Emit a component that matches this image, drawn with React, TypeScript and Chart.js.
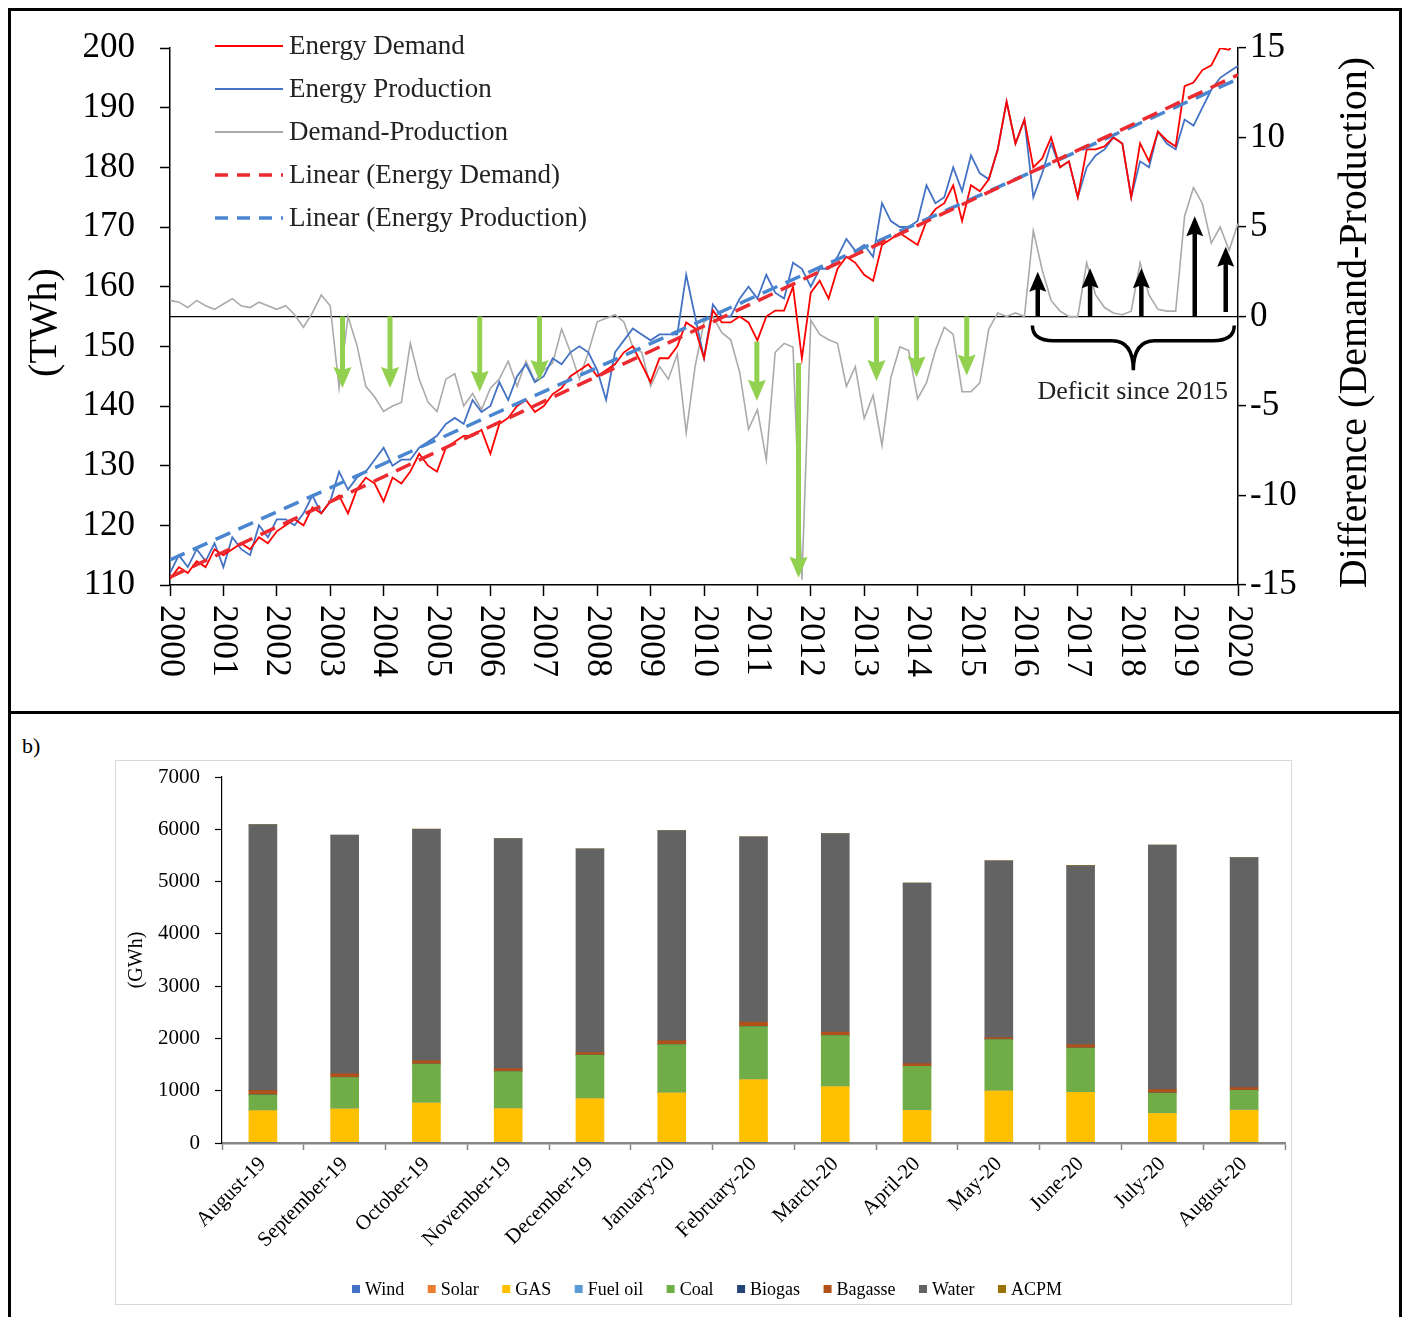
import React, { useEffect, useRef } from 'react';
import { Chart, registerables } from 'chart.js';

Chart.register(...registerables);

const SERIF = '"Liberation Serif", "Times New Roman", serif';

// ---------------- Panel a) data (bimonthly readings, 2000 -> 2020) ----------------
const START_YEAR = 2000;
const STEPS_PER_YEAR = 6;

const energyDemand = [
  111, 113, 112, 114, 113, 116,
  115, 116, 117, 116, 118, 117,
  119, 120, 121, 120, 123, 122,
  124, 125, 122, 126, 128, 127,
  124, 128, 127, 129, 132, 130,
  129, 133, 134, 135, 135, 136,
  132, 137, 138, 140, 141, 139,
  140, 142, 143, 145, 146, 147,
  145, 146, 147, 149, 150, 147,
  144, 148, 148, 150, 154, 153,
  148, 156, 154, 154, 155, 154,
  151, 155, 156, 156, 160, 148,
  159, 161, 158, 163, 165, 164,
  162, 161, 167, 168, 169, 168,
  167, 171, 173, 174, 177, 171,
  177, 176, 178, 183, 191, 184,
  188, 180, 181.5, 185, 180, 181,
  175, 183, 183, 183.5, 185, 184,
  175, 184, 181, 186, 184.5, 183.5,
  193.6, 194.2, 196.3, 197.1, 200, 199.7,
  202,
];

const energyProduction = [
  112, 115, 113, 116, 114, 117,
  113, 118, 116, 115, 120, 118,
  121, 121, 120, 122, 125, 122,
  124, 129, 126, 128, 129, 131,
  133, 130, 131, 131, 133, 134,
  135, 137, 138, 137, 141, 139,
  140, 144, 141, 145, 147, 144,
  145, 148, 147, 149, 150, 149,
  146, 141, 149, 151, 153, 152,
  151, 152, 152, 152, 162, 155,
  148, 157, 155, 155, 158, 160,
  158, 162, 159, 158, 164, 163,
  160, 163, 163, 165, 168, 166,
  167, 165, 174, 171, 170, 170,
  171, 177, 174, 175, 180, 176,
  182, 179, 178, 183, 191, 184,
  188, 175, 179, 184, 180, 181,
  175, 180, 182, 183, 185, 184,
  175, 181, 180, 186, 184, 183,
  188, 187, 190, 193, 195, 196,
  197,
];

const demandMinusProduction = [
  0.9, 0.8, 0.5, 0.9, 0.6, 0.4,
  0.7, 1.0, 0.6, 0.5, 0.8, 0.6,
  0.4, 0.6, 0.1, -0.6, 0.2, 1.2,
  0.6, -4.0, 0.0, -1.6, -3.9, -4.5,
  -5.3, -5.0, -4.8, -1.5, -3.5, -4.8,
  -5.3, -3.5, -3.2, -5.0, -4.3, -5.2,
  -4.0, -3.5, -2.5, -3.9, -2.5, -3.6,
  -3.0, -2.6, -0.7, -2.0, -3.5, -2.0,
  -0.3, -0.1, 0.1, -0.3, -1.7, -2.0,
  -3.9, -2.8, -3.5, -2.1, -6.5, -2.8,
  -0.3, 0.0, -0.9, -1.3, -3.1, -6.3,
  -5.2, -8.0, -2.0, -1.5, -1.7, -14.7,
  -0.2, -1.0, -1.3, -1.5, -3.9, -2.8,
  -5.7, -4.4, -7.2, -3.4, -1.7, -1.9,
  -4.6, -3.7, -1.9, -0.6, -1.0, -4.2,
  -4.2, -3.7, -0.7, 0.2, 0.0, 0.2,
  0.0, 4.8, 2.6, 0.9, 0.3, 0.0,
  0.0, 3.0, 1.2, 0.5, 0.2, 0.1,
  0.3, 3.0, 1.2, 0.4, 0.3, 0.3,
  5.6, 7.2, 6.3, 4.1, 5.0, 3.7,
  5.2,
];

const trendYears = [2000, 2020];
const linearDemand = [111.3, 195.5];
const linearProduction = [114.2, 194.8];

const legendOrderA = [
  'Energy Demand',
  'Energy Production',
  'Demand-Production',
  'Linear (Energy Demand)',
  'Linear (Energy Production)',
];

// annotation anchors (data units: year, difference)
const greenArrowYears = [2003.23, 2004.12, 2005.8, 2006.92, 2010.99, 2011.77, 2013.23, 2013.98, 2014.92];
const greenArrowFrom = [0, 0, 0, 0, -1.4, -2.6, 0, 0, 0];
const greenArrowTo = [-4.0, -4.0, -4.2, -3.6, -4.7, -14.6, -3.6, -3.4, -3.3];
const blackArrowYears = [2016.25, 2017.23, 2018.19, 2019.19, 2019.77];
const blackArrowFrom = [0, 0, 0, 0, 0.25];
const blackArrowTo = [2.5, 2.7, 2.7, 5.6, 3.9];
const braceYears = [2016.15, 2019.93];
const braceLevels = [-0.5, -1.35, -3.0];
const deficitLabel = 'Deficit since 2015';
const deficitAnchor = [2018.03, -4.2];

// ---------------- Panel b) data (GWh) ----------------
const monthsB = [
  'August-19', 'September-19', 'October-19', 'November-19', 'December-19',
  'January-20', 'February-20', 'March-20', 'April-20', 'May-20', 'June-20',
  'July-20', 'August-20',
];
const wind = [2, 2, 2, 2, 2, 2, 2, 2, 2, 2, 2, 2, 2];
const solar = [3, 3, 3, 3, 3, 3, 3, 3, 3, 3, 3, 3, 3];
const gas = [616, 649, 763, 655, 845, 954, 1210, 1076, 618, 992, 962, 561, 624];
const fuelOil = [4, 4, 4, 4, 4, 4, 4, 4, 4, 4, 4, 4, 4];
const coal = [296, 595, 736, 704, 826, 920, 1009, 971, 838, 979, 843, 385, 374];
const biogas = [2, 2, 2, 2, 2, 2, 2, 2, 2, 2, 2, 2, 2];
const bagasse = [80, 70, 64, 51, 51, 70, 83, 63, 51, 32, 65, 65, 51];
const water = [5088, 4562, 4423, 4402, 3892, 4021, 3543, 3798, 3454, 3384, 3420, 4676, 4401];
const acpm = [0, 0, 8, 0, 0, 0, 0, 0, 0, 0, 8, 0, 0];

const periodYears = energyDemand.map((_, i) => START_YEAR + i / STEPS_PER_YEAR);
const toXY = (vals: number[]) => vals.map((v, i) => ({ x: periodYears[i], y: v }));

function drawArrow(
  ctx: CanvasRenderingContext2D,
  x: number, yFrom: number, yTo: number,
  color: string, shaft: number, headW: number, headL: number,
) {
  const dir = yTo > yFrom ? 1 : -1;
  const yBase = yTo - dir * headL;
  ctx.save();
  ctx.strokeStyle = color;
  ctx.fillStyle = color;
  ctx.lineWidth = shaft;
  ctx.lineCap = 'butt';
  ctx.beginPath();
  ctx.moveTo(x, yFrom);
  ctx.lineTo(x, yBase + dir * 2);
  ctx.stroke();
  ctx.beginPath();
  ctx.moveTo(x - headW / 2, yBase - dir * 3);
  ctx.lineTo(x, yBase);
  ctx.lineTo(x + headW / 2, yBase - dir * 3);
  ctx.lineTo(x, yTo);
  ctx.closePath();
  ctx.fill();
  ctx.restore();
}

const fixPad = (s: any) => {
  s.paddingTop = 0;
  s.paddingBottom = 0;
  s.paddingLeft = 0;
  s.paddingRight = 0;
};

const annotationsA = {
  id: 'annotationsA',
  afterDatasetsDraw(chart: any) {
    const { ctx, scales } = chart;
    const x = scales.x;
    const y2 = scales.y2;
    greenArrowYears.forEach((yr, i) => {
      drawArrow(ctx, x.getPixelForValue(yr), y2.getPixelForValue(greenArrowFrom[i]),
        y2.getPixelForValue(greenArrowTo[i]), '#92d050', 5, 18, 18);
    });
    blackArrowYears.forEach((yr, i) => {
      drawArrow(ctx, x.getPixelForValue(yr), y2.getPixelForValue(blackArrowFrom[i]),
        y2.getPixelForValue(blackArrowTo[i]), '#000000', 4.5, 17, 17);
    });
    // curly brace
    const x1 = x.getPixelForValue(braceYears[0]);
    const x2 = x.getPixelForValue(braceYears[1]);
    const xm = (x1 + x2) / 2;
    const yTop = y2.getPixelForValue(braceLevels[0]);
    const yMid = y2.getPixelForValue(braceLevels[1]);
    const yTip = y2.getPixelForValue(braceLevels[2]);
    const r = yMid - yTop;
    ctx.save();
    ctx.strokeStyle = '#000';
    ctx.lineWidth = 3.5;
    ctx.beginPath();
    ctx.moveTo(x1, yTop);
    ctx.quadraticCurveTo(x1, yMid, x1 + r * 1.4, yMid);
    ctx.lineTo(xm - r * 1.4, yMid);
    ctx.quadraticCurveTo(xm, yMid, xm, yTip);
    ctx.moveTo(xm, yTip);
    ctx.quadraticCurveTo(xm, yMid, xm + r * 1.4, yMid);
    ctx.lineTo(x2 - r * 1.4, yMid);
    ctx.quadraticCurveTo(x2, yMid, x2, yTop);
    ctx.stroke();
    ctx.fillStyle = '#222';
    ctx.font = `26px ${SERIF}`;
    ctx.textAlign = 'center';
    ctx.textBaseline = 'middle';
    ctx.fillText(deficitLabel, x.getPixelForValue(deficitAnchor[0]), y2.getPixelForValue(deficitAnchor[1]));
    ctx.restore();
  },
  afterDraw(chart: any) {
    const { ctx, scales, chartArea } = chart;
    const x = scales.x;
    ctx.save();
    // rotated year labels (reading top to bottom)
    ctx.fillStyle = '#000';
    ctx.font = `36px ${SERIF}`;
    ctx.textAlign = 'left';
    ctx.textBaseline = 'middle';
    x.ticks.forEach((t: any) => {
      const px = x.getPixelForValue(t.value);
      ctx.save();
      ctx.translate(px, chartArea.bottom + 20);
      ctx.rotate(Math.PI / 2);
      ctx.fillText(String(t.value), 0, 0);
      ctx.restore();
    });
    // axis titles
    const cy = (chartArea.top + chartArea.bottom) / 2 + 6;
    ctx.font = `40px ${SERIF}`;
    ctx.textAlign = 'center';
    ctx.save();
    ctx.translate(34, cy);
    ctx.rotate(-Math.PI / 2);
    ctx.fillText('(TWh)', 0, 0);
    ctx.restore();
    ctx.save();
    ctx.translate(1344, cy);
    ctx.rotate(-Math.PI / 2);
    ctx.fillText('Difference (Demand-Production)', 0, 0);
    ctx.restore();
    // legend
    ctx.font = `27px ${SERIF}`;
    ctx.textAlign = 'left';
    legendOrderA.forEach((label, i) => {
      const ds = chart.data.datasets.find((d: any) => d.label === label);
      const ly = 35 + i * 43;
      ctx.save();
      ctx.strokeStyle = ds.borderColor;
      ctx.lineWidth = ds.borderDash ? 3.5 : 2;
      ctx.setLineDash(ds.borderDash ? [13, 9] : []);
      ctx.beginPath();
      ctx.moveTo(204, ly);
      ctx.lineTo(272, ly);
      ctx.stroke();
      ctx.restore();
      ctx.fillStyle = '#222';
      ctx.fillText(label, 278, ly + 1);
    });
    ctx.restore();
  },
};

const decorationsB = {
  id: 'decorationsB',
  afterDraw(chart: any) {
    const { ctx, chartArea } = chart;
    ctx.save();
    ctx.fillStyle = '#000';
    ctx.font = `20px ${SERIF}`;
    ctx.textAlign = 'center';
    ctx.textBaseline = 'middle';
    ctx.save();
    ctx.translate(21, (chartArea.top + chartArea.bottom) / 2);
    ctx.rotate(-Math.PI / 2);
    ctx.fillText('(GWh)', 0, 0);
    ctx.restore();
    // legend
    ctx.font = `18px ${SERIF}`;
    ctx.textAlign = 'left';
    const items = chart.data.datasets.map((d: any) => ({
      label: d.label, color: d.backgroundColor, w: 8 + 5 + ctx.measureText(d.label).width,
    }));
    const total = items.reduce((s: number, it: any) => s + it.w, 0);
    const start = 236;
    const span = 710;
    const gap = (span - total) / (items.length - 1);
    let cx = start;
    const ly = 528;
    items.forEach((it: any) => {
      ctx.fillStyle = it.color;
      ctx.fillRect(cx, ly - 4, 8, 8);
      ctx.fillStyle = '#000';
      ctx.fillText(it.label, cx + 13, ly + 1);
      cx += it.w + gap;
    });
    ctx.restore();
  },
};

export default function App() {
  const refA = useRef<HTMLCanvasElement>(null);
  const refB = useRef<HTMLCanvasElement>(null);

  useEffect(() => {
    const chartA = new Chart(refA.current as HTMLCanvasElement, {
      type: 'line',
      data: {
        datasets: [
          {
            label: 'Linear (Energy Demand)',
            data: trendYears.map((t, i) => ({ x: t, y: linearDemand[i] })),
            borderColor: '#ec2a2f', borderWidth: 3.5, borderDash: [16, 9],
            pointRadius: 0, yAxisID: 'y',
          },
          {
            label: 'Linear (Energy Production)',
            data: trendYears.map((t, i) => ({ x: t, y: linearProduction[i] })),
            borderColor: '#4a86d0', borderWidth: 3.5, borderDash: [16, 9],
            pointRadius: 0, yAxisID: 'y',
          },
          {
            label: 'Energy Demand', data: toXY(energyDemand),
            borderColor: '#ff0000', borderWidth: 1.8, pointRadius: 0, yAxisID: 'y',
          },
          {
            label: 'Energy Production', data: toXY(energyProduction),
            borderColor: '#4472c4', borderWidth: 1.8, pointRadius: 0, yAxisID: 'y',
          },
          {
            label: 'Demand-Production', data: toXY(demandMinusProduction),
            borderColor: '#aaaaaa', borderWidth: 1.6, pointRadius: 0, yAxisID: 'y2',
          },
        ],
      },
      options: {
        responsive: false,
        animation: false,
        devicePixelRatio: 1,
        layout: { padding: { top: 37, left: 0, right: 0, bottom: 0 } },
        plugins: { legend: { display: false }, tooltip: { enabled: false } },
        scales: {
          x: {
            type: 'linear', min: 2000, max: 2020,
            afterFit: (s: any) => { s.height = 126; fixPad(s); },
            ticks: { stepSize: 1, display: false },
            grid: { drawOnChartArea: false, drawTicks: true, tickLength: 11, tickColor: '#000', tickWidth: 1.5 },
            border: { color: '#000', width: 1.5 },
          },
          y: {
            position: 'left', min: 110, max: 200,
            afterFit: (s: any) => { s.width = 159; fixPad(s); },
            ticks: {
              stepSize: 10, color: '#000', padding: 25,
              font: { family: SERIF, size: 35 },
              callback: (v: any) => String(v),
            },
            grid: { drawOnChartArea: false, tickLength: 10, tickColor: '#000', tickWidth: 1.5 },
            border: { color: '#000', width: 1.5 },
          },
          y2: {
            position: 'right', min: -15, max: 15,
            afterFit: (s: any) => { s.width = 161; fixPad(s); },
            ticks: {
              stepSize: 5, color: '#000', padding: 4,
              font: { family: SERIF, size: 35 },
              callback: (v: any) => String(v),
            },
            grid: {
              drawOnChartArea: true,
              color: (c: any) => (c.tick && c.tick.value === 0 ? '#000' : 'rgba(0,0,0,0)'),
              lineWidth: 1.2, tickLength: 8, tickColor: '#000', tickWidth: 1.5,
            },
            border: { color: '#000', width: 1.5 },
          },
        },
      } as any,
      plugins: [annotationsA],
    });

    const stackDs = (label: string, data: number[], color: string) => ({
      label, data, backgroundColor: color, borderWidth: 0, barThickness: 28, stack: 'gen',
    });

    const chartB = new Chart(refB.current as HTMLCanvasElement, {
      type: 'bar',
      data: {
        labels: monthsB,
        datasets: [
          stackDs('Wind', wind, '#4472c4'),
          stackDs('Solar', solar, '#ed7d31'),
          stackDs('GAS', gas, '#ffc000'),
          stackDs('Fuel oil', fuelOil, '#5b9bd5'),
          stackDs('Coal', coal, '#70ad47'),
          stackDs('Biogas', biogas, '#264478'),
          stackDs('Bagasse', bagasse, '#b0501a'),
          stackDs('Water', water, '#636363'),
          stackDs('ACPM', acpm, '#997300'),
        ],
      },
      options: {
        responsive: false,
        animation: false,
        devicePixelRatio: 1,
        layout: { padding: { top: 16, right: 6, left: 0, bottom: 0 } },
        plugins: { legend: { display: false }, tooltip: { enabled: false } },
        scales: {
          x: {
            stacked: true,
            afterFit: (s: any) => { s.height = 161; fixPad(s); },
            ticks: {
              color: '#000', font: { family: SERIF, size: 21 },
              minRotation: 45, maxRotation: 45, autoSkip: false, padding: 2,
            },
            grid: { drawOnChartArea: false, offset: true, tickLength: 7, tickColor: '#868686', tickWidth: 1.5 },
            border: { color: '#868686', width: 2.5 },
          },
          y: {
            stacked: true, min: 0, max: 7000,
            afterFit: (s: any) => { s.width = 106; fixPad(s); },
            ticks: {
              stepSize: 1000, color: '#000', padding: 15,
              font: { family: SERIF, size: 21 },
              callback: (v: any) => String(v),
            },
            grid: { drawOnChartArea: false, tickLength: 7, tickColor: '#000', tickWidth: 1.2 },
            border: { color: '#000', width: 1.2 },
          },
        },
      } as any,
      plugins: [decorationsB],
    });

    return () => {
      chartA.destroy();
      chartB.destroy();
    };
  }, []);

  return (
    <div
      style={{
        position: 'relative', width: 1394, height: 1309, boxSizing: 'border-box',
        borderTop: '3px solid #000', borderLeft: '3px solid #000', borderRight: '3px solid #000',
        background: '#fff', fontFamily: SERIF,
      }}
    >
      <canvas ref={refA} width={1388} height={700}
        style={{ position: 'absolute', left: 0, top: 0, display: 'block' }} />
      <div style={{ position: 'absolute', left: 0, top: 700, width: 1388, height: 3, background: '#000' }} />
      <div style={{ position: 'absolute', left: 11, top: 722, fontSize: 22, color: '#000' }}>b)</div>
      <div
        style={{
          position: 'absolute', left: 104, top: 749, width: 1177, height: 545,
          boxSizing: 'border-box', border: '1px solid #d9d9d9',
        }}
      >
        <canvas ref={refB} width={1175} height={543} style={{ display: 'block' }} />
      </div>
    </div>
  );
}
